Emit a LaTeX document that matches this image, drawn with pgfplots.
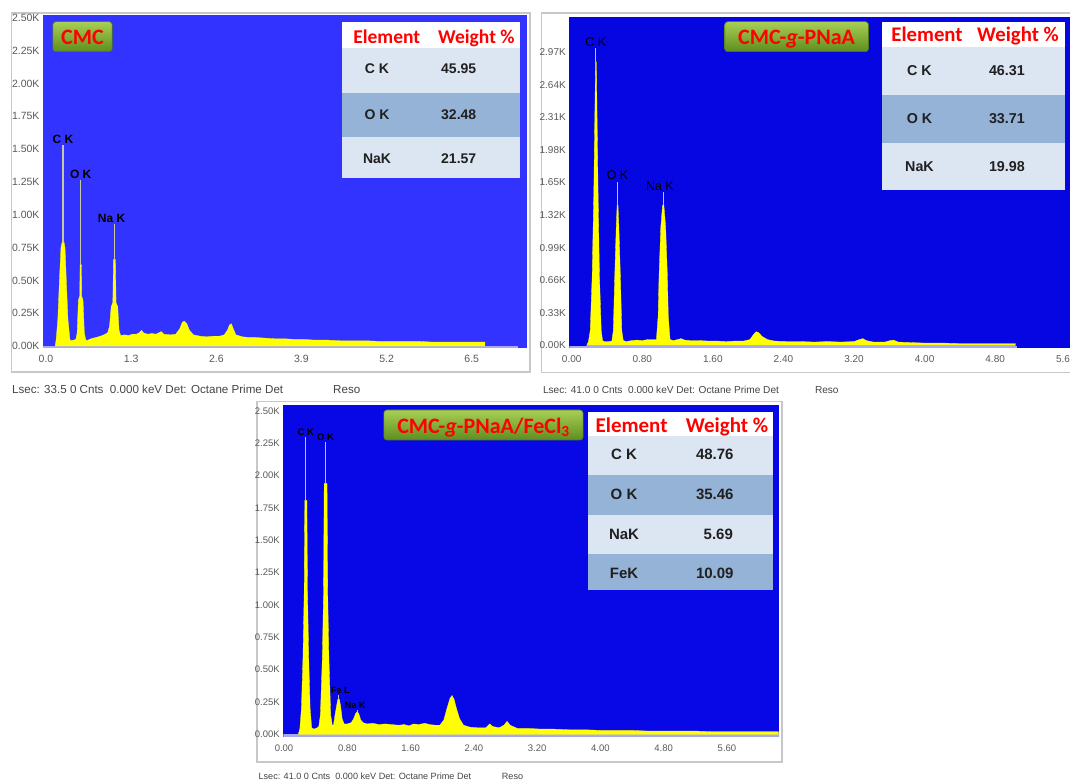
\documentclass[border=0pt]{standalone}
\usepackage{fontspec}
\setmainfont{Liberation Sans}
\newfontfamily\carlito{Carlito}
\usepackage{pgfplots}
\pgfplotsset{compat=1.18}
\definecolor{blueA}{HTML}{3333FF}
\definecolor{blueB}{HTML}{0606E2}
\definecolor{blueC}{HTML}{0808E6}
\definecolor{spec}{HTML}{FFFF00}
\definecolor{markc}{HTML}{C8C8A0}
\definecolor{lav}{HTML}{A8A8F5}
\definecolor{rowL}{HTML}{DCE6F2}
\definecolor{rowD}{HTML}{95B3D7}
\definecolor{tickgray}{HTML}{5A5A5A}
\definecolor{frameg}{HTML}{C8C8C8}
\definecolor{gtop}{HTML}{A8CF55}
\definecolor{gbot}{HTML}{5E8E1E}
\definecolor{gdark}{HTML}{4E7A16}
\definecolor{cellc}{HTML}{202020}
\definecolor{foot}{HTML}{454545}

\pgfplotsset{edx/.style={
  scale only axis, anchor=south west,
  axis line style={draw=none},
  major tick length=0pt,
  ticklabel style={text=tickgray},
  xticklabel style={yshift=-4pt},
}}
\tikzset{
  hdr/.style={anchor=base, text=red, inner sep=0pt},
  cell/.style={anchor=base, text=cellc, inner sep=0pt},
  pk/.style={anchor=south, inner sep=1.2pt, text=black},
  mk/.style={draw=markc, line width=1.1pt},
  sp/.style={fill=spec, draw=spec, line width=0.3pt},
  ft/.style={anchor=base west, inner sep=0pt, text=foot},
  gbox/.style={top color=gtop, bottom color=gbot, draw=gdark, rounded corners=3pt, line width=0.6pt},
  glab/.style={anchor=base, text=red, inner sep=0pt, font=\carlito\bfseries\fontsize{22}{22}\selectfont},
}

\begin{document}
\begin{tikzpicture}
\begin{scope}[x=1pt,y=1pt]
  \fill[white] (0,0) rectangle (1070,783);
  \draw[frameg, line width=1.4pt, fill=white] (11.5,783-13) rectangle (530,783-372);
  \draw[frameg, line width=1.4pt, fill=white] (541.5,783-13) rectangle (1095,783-372.7);
  \draw[frameg, line width=1.4pt, fill=white] (257,783-401.5) rectangle (782,783-762);
\end{scope}

% ---------------- Panel 1 : CMC ----------------
\begin{axis}[edx, at={(43pt,435pt)}, width=484.3pt, height=332.5pt,
  ticklabel style={font=\fontsize{10.5}{12}\selectfont},
  xmin=-0.046, xmax=7.348, ymin=-0.015, ymax=2.519,
  axis background/.style={fill=blueA},
  xtick={0,1.3,2.6,3.9,5.2,6.5}, xticklabels={0.0,1.3,2.6,3.9,5.2,6.5},
  ytick={0,0.25,0.5,0.75,1,1.25,1.5,1.75,2,2.25,2.5},
  yticklabels={0.00K,0.25K,0.50K,0.75K,1.00K,1.25K,1.50K,1.75K,2.00K,2.25K,2.50K}]
\fill[lav] (axis cs:-0.1,-0.02) rectangle (axis cs:7.2,0);
\addplot[sp] coordinates {
(0.14,0) (0.155,0.05) (0.18,0.2) (0.205,0.5) (0.228,0.75) (0.245,0.79) (0.275,0.79) (0.29,0.75)
(0.31,0.5) (0.335,0.2) (0.365,0.05) (0.38,0.04) (0.42,0.045) (0.455,0.05) (0.475,0.1) (0.495,0.35)
(0.515,0.38) (0.52,0.62) (0.54,0.62) (0.545,0.38) (0.565,0.35) (0.585,0.1) (0.605,0.05) (0.63,0.04)
(0.66,0.05) (0.72,0.06) (0.80,0.07) (0.86,0.08) (0.90,0.09) (0.94,0.10) (0.97,0.15) (0.995,0.30)
(1.02,0.33) (1.03,0.66) (1.06,0.66) (1.07,0.33) (1.095,0.30) (1.115,0.12) (1.14,0.08) (1.2,0.085)
(1.26,0.08) (1.32,0.09) (1.38,0.09) (1.42,0.10) (1.46,0.12) (1.49,0.10) (1.55,0.09) (1.62,0.095)
(1.68,0.09) (1.72,0.10) (1.76,0.11) (1.80,0.09) (1.90,0.085) (1.98,0.09) (2.04,0.13) (2.08,0.18)
(2.11,0.19) (2.15,0.17) (2.19,0.12) (2.25,0.085) (2.35,0.075) (2.45,0.07) (2.55,0.075) (2.65,0.075)
(2.72,0.085) (2.77,0.12) (2.80,0.16) (2.83,0.17) (2.86,0.13) (2.90,0.085) (3.0,0.07) (3.1,0.065)
(3.2,0.065) (3.35,0.06) (3.5,0.055) (3.65,0.055) (3.8,0.05) (3.95,0.05) (4.1,0.045) (4.3,0.045)
(4.5,0.04) (4.7,0.04) (4.9,0.04) (5.1,0.035) (5.3,0.035) (5.5,0.035) (5.7,0.035) (5.9,0.03)
(6.1,0.03) (6.3,0.03) (6.5,0.03) (6.70,0.03) (6.70,0)} \closedcycle;
\addplot[mk] coordinates {(0.26,0.79) (0.26,1.53)};
\addplot[mk] coordinates {(0.53,0.62) (0.53,1.265)};
\addplot[mk] coordinates {(1.045,0.66) (1.045,0.93)};
\node[pk, font=\bfseries\fontsize{12}{12}\selectfont] at (axis cs:0.26,1.53) {C K};
\node[pk, font=\bfseries\fontsize{12}{12}\selectfont] at (axis cs:0.53,1.265) {O K};
\node[pk, font=\bfseries\fontsize{12}{12}\selectfont] at (axis cs:1.0,0.93) {Na K};
\end{axis}

% ---------------- Panel 2 : CMC-g-PNaA ----------------
\begin{axis}[edx, at={(569.3pt,434.7pt)}, width=505.7pt, height=331.6pt,
  ticklabel style={font=\fontsize{10}{12}\selectfont},
  xmin=-0.027, xmax=5.705, ymin=-0.028, ymax=3.328,
  axis background/.style={fill=blueB},
  xtick={0,0.8,1.6,2.4,3.2,4.0,4.8,5.6}, xticklabels={0.00,0.80,1.60,2.40,3.20,4.00,4.80,5.60},
  ytick={0,0.33,0.66,0.99,1.32,1.65,1.98,2.31,2.64,2.97},
  yticklabels={0.00K,0.33K,0.66K,0.99K,1.32K,1.65K,1.98K,2.31K,2.64K,2.97K}]
\fill[lav] (axis cs:-0.1,-0.03) rectangle (axis cs:5.05,0);
\addplot[sp] coordinates {
(0.17,0) (0.19,0.04) (0.21,0.15) (0.232,0.7) (0.25,1.5) (0.265,2.5) (0.27,2.87) (0.28,2.87)
(0.285,2.5) (0.30,1.5) (0.315,0.7) (0.335,0.15) (0.35,0.05) (0.37,0.04) (0.42,0.04) (0.455,0.045)
(0.472,0.15) (0.488,0.7) (0.505,1.2) (0.515,1.42) (0.525,1.42) (0.535,1.2) (0.552,0.7) (0.568,0.15)
(0.585,0.05) (0.62,0.04) (0.68,0.05) (0.74,0.055) (0.80,0.05) (0.86,0.06) (0.92,0.06) (0.96,0.06)
(0.98,0.3) (0.99,0.7) (1.01,1.2) (1.03,1.42) (1.045,1.42) (1.065,1.2) (1.085,0.7) (1.095,0.3)
(1.115,0.06) (1.15,0.05) (1.20,0.06) (1.24,0.07) (1.28,0.055) (1.35,0.05) (1.45,0.05) (1.55,0.045)
(1.65,0.045) (1.75,0.04) (1.85,0.045) (1.95,0.045) (2.02,0.06) (2.06,0.11) (2.09,0.14) (2.12,0.13)
(2.16,0.09) (2.22,0.06) (2.3,0.045) (2.45,0.04) (2.6,0.04) (2.75,0.035) (2.9,0.04) (3.05,0.035)
(3.2,0.04) (3.26,0.06) (3.30,0.07) (3.34,0.05) (3.42,0.035) (3.55,0.035) (3.61,0.05) (3.65,0.055)
(3.70,0.035) (3.85,0.03) (4.0,0.025) (4.2,0.025) (4.4,0.02) (4.6,0.02) (4.8,0.02) (5.03,0.02)
(5.03,0)} \closedcycle;
\addplot[mk] coordinates {(0.274,2.87) (0.274,3.01)};
\addplot[mk] coordinates {(0.52,1.42) (0.52,1.66)};
\addplot[mk] coordinates {(1.037,1.42) (1.037,1.55)};
\node[pk, font=\fontsize{12.5}{12.5}\selectfont] at (axis cs:0.274,3.01) {C K};
\node[pk, font=\fontsize{12.5}{12.5}\selectfont] at (axis cs:0.52,1.66) {O K};
\node[pk, font=\fontsize{12.5}{12.5}\selectfont] at (axis cs:1.0,1.55) {Na K};
\end{axis}

% ---------------- Panel 3 : CMC-g-PNaA/FeCl3 ----------------
\begin{axis}[edx, at={(283.3pt,46pt)}, width=495.7pt, height=332pt,
  ticklabel style={font=\fontsize{9.5}{11}\selectfont},
  xmin=-0.009, xmax=6.258, ymin=-0.021, ymax=2.547,
  axis background/.style={fill=blueC},
  xtick={0,0.8,1.6,2.4,3.2,4.0,4.8,5.6}, xticklabels={0.00,0.80,1.60,2.40,3.20,4.00,4.80,5.60},
  ytick={0,0.25,0.5,0.75,1,1.25,1.5,1.75,2,2.25,2.5},
  yticklabels={0.00K,0.25K,0.50K,0.75K,1.00K,1.25K,1.50K,1.75K,2.00K,2.25K,2.50K}]
\fill[lav] (axis cs:-0.1,-0.03) rectangle (axis cs:6.3,0);
\addplot[sp] coordinates {
(0.18,0) (0.20,0.04) (0.22,0.2) (0.24,0.6) (0.255,1.1) (0.263,1.81) (0.289,1.81) (0.297,1.1)
(0.312,0.6) (0.33,0.2) (0.35,0.05) (0.38,0.04) (0.42,0.05) (0.44,0.06) (0.46,0.15) (0.485,0.6)
(0.50,1.1) (0.508,1.94) (0.544,1.94) (0.552,1.1) (0.567,0.6) (0.59,0.15) (0.61,0.07) (0.625,0.07)
(0.645,0.15) (0.665,0.22) (0.68,0.27) (0.70,0.27) (0.715,0.22) (0.735,0.12) (0.76,0.08) (0.80,0.08)
(0.85,0.09) (0.88,0.12) (0.905,0.16) (0.925,0.175) (0.945,0.16) (0.97,0.11) (1.0,0.09) (1.05,0.08)
(1.12,0.085) (1.2,0.075) (1.28,0.08) (1.36,0.075) (1.45,0.07) (1.52,0.075) (1.58,0.065) (1.64,0.08)
(1.70,0.075) (1.78,0.085) (1.84,0.075) (1.92,0.07) (1.97,0.07) (2.02,0.11) (2.06,0.2) (2.10,0.28)
(2.125,0.30) (2.15,0.27) (2.18,0.2) (2.22,0.12) (2.27,0.07) (2.35,0.055) (2.45,0.05) (2.55,0.05)
(2.60,0.08) (2.64,0.06) (2.72,0.05) (2.78,0.07) (2.82,0.10) (2.86,0.07) (2.95,0.045) (3.1,0.045)
(3.25,0.04) (3.4,0.04) (3.6,0.035) (3.8,0.035) (4.0,0.03) (4.2,0.03) (4.4,0.03) (4.6,0.025)
(4.8,0.025) (5.0,0.025) (5.2,0.025) (5.4,0.02) (5.6,0.02) (5.8,0.02) (6.0,0.02) (6.25,0.02)
(6.25,0)} \closedcycle;
\addplot[mk] coordinates {(0.276,1.81) (0.276,2.30)};
\addplot[mk] coordinates {(0.526,1.94) (0.526,2.26)};
\addplot[mk] coordinates {(0.69,0.27) (0.69,0.30)};
\addplot[mk] coordinates {(0.925,0.175) (0.925,0.19)};
\node[pk, font=\bfseries\fontsize{9.5}{9.5}\selectfont] at (axis cs:0.276,2.30) {C K};
\node[pk, font=\bfseries\fontsize{9.5}{9.5}\selectfont] at (axis cs:0.526,2.26) {O K};
\node[inner sep=0pt, text=black, font=\bfseries\fontsize{9}{9}\selectfont] at (axis cs:0.713,0.336) {Fe L};
\node[inner sep=0pt, text=black, font=\bfseries\fontsize{9}{9}\selectfont] at (axis cs:0.90,0.223) {Na K};
\end{axis}

\begin{scope}[x=1pt,y=1pt]
  % ---- tables panel 1
  \fill[white] (341.5,783-21.7) rectangle (519.8,783-178.3);
  \fill[rowL] (341.5,783-48.3) rectangle (519.8,783-92.7);
  \fill[rowD] (341.5,783-92.7) rectangle (519.8,783-136.7);
  \fill[rowL] (341.5,783-136.7) rectangle (519.8,783-178.3);
  \begin{scope}[every node/.append style={font=\carlito\bfseries\fontsize{19.5}{20}\selectfont}]
    \node[hdr] at (386.7,783-44) {Element};
    \node[hdr] at (476.4,783-44) {Weight \%};
  \end{scope}
  \begin{scope}[every node/.append style={font=\bfseries\fontsize{14}{14}\selectfont}]
    \node[cell] at (377,783-74) {C K};    \node[cell] at (458.7,783-74) {45.95};
    \node[cell] at (377,783-119.3) {O K}; \node[cell] at (458.7,783-119.3) {32.48};
    \node[cell] at (377,783-163.3) {NaK}; \node[cell] at (458.7,783-163.3) {21.57};
  \end{scope}
  % ---- tables panel 2
  \fill[white] (882,783-21.7) rectangle (1064.7,783-190);
  \fill[rowL] (882,783-46.7) rectangle (1064.7,783-95);
  \fill[rowD] (882,783-95) rectangle (1064.7,783-143.3);
  \fill[rowL] (882,783-143.3) rectangle (1064.7,783-190);
  \begin{scope}[every node/.append style={font=\carlito\bfseries\fontsize{20.8}{21}\selectfont}]
    \node[hdr] at (927,783-41.7) {Element};
    \node[hdr] at (1018,783-41.7) {Weight \%};
  \end{scope}
  \begin{scope}[every node/.append style={font=\bfseries\fontsize{14.3}{14.3}\selectfont}]
    \node[cell] at (919.5,783-76) {C K};    \node[cell] at (1006.9,783-76) {46.31};
    \node[cell] at (919.5,783-124) {O K};   \node[cell] at (1006.9,783-124) {33.71};
    \node[cell] at (919.5,783-171.7) {NaK}; \node[cell] at (1006.9,783-171.7) {19.98};
  \end{scope}
  % ---- tables panel 3
  \fill[white] (588.3,783-411.7) rectangle (772.7,783-590);
  \fill[rowL] (588.3,783-436) rectangle (772.7,783-475);
  \fill[rowD] (588.3,783-475) rectangle (772.7,783-515);
  \fill[rowL] (588.3,783-515) rectangle (772.7,783-554);
  \fill[rowD] (588.3,783-554) rectangle (772.7,783-590);
  \begin{scope}[every node/.append style={font=\carlito\bfseries\fontsize{21}{21}\selectfont}]
    \node[hdr] at (631.6,783-432.5) {Element};
    \node[hdr] at (727,783-432.5) {Weight \%};
  \end{scope}
  \begin{scope}[every node/.append style={font=\bfseries\fontsize{15}{15}\selectfont}]
    \node[cell] at (624,783-460) {C K};   \node[cell] at (714.8,783-460) {48.76};
    \node[cell] at (624,783-500) {O K};   \node[cell] at (714.8,783-500) {35.46};
    \node[cell] at (624,783-539.3) {NaK}; \node[cell] at (718.3,783-539.3) {5.69};
    \node[cell] at (624,783-579) {FeK};   \node[cell] at (714.8,783-579) {10.09};
  \end{scope}
  % ---- green labels
  \shade[gbox] (52.8,783-21.7) rectangle (112.2,783-51.7);
  \node[glab] at (82.5,783-45) {CMC};
  \shade[gbox] (724.7,783-21.7) rectangle (868.5,783-51.7);
  \node[glab] at (796.6,783-45) {CMC-\textit{g}-PNaA};
  \shade[gbox] (383.8,783-410) rectangle (583.1,783-440);
  \node[glab] at (483.5,783-433.5) {CMC-\textit{g}-PNaA/FeCl\textsubscript{3}};
  % ---- footers
  \node[ft, font=\fontsize{11.6}{12}\selectfont] at (12,783-394) {Lsec: 33.5 0 Cnts\ \ 0.000 keV Det: Octane Prime Det};
  \node[ft, font=\fontsize{11.6}{12}\selectfont] at (333,783-394) {Reso};
  \node[ft, font=\fontsize{10.1}{12}\selectfont] at (542.8,783-394) {Lsec: 41.0 0 Cnts\ \ 0.000 keV Det: Octane Prime Det};
  \node[ft, font=\fontsize{10.1}{12}\selectfont] at (814.8,783-394) {Reso};
  \node[ft, font=\fontsize{9.1}{11}\selectfont] at (258.4,783-780) {Lsec: 41.0 0 Cnts\ \ 0.000 keV Det: Octane Prime Det};
  \node[ft, font=\fontsize{9.1}{11}\selectfont] at (501.7,783-780) {Reso};
\end{scope}
\pgfresetboundingbox
\path[use as bounding box] (0pt,0pt) rectangle (1070pt,783pt);
\end{tikzpicture}
\end{document}
